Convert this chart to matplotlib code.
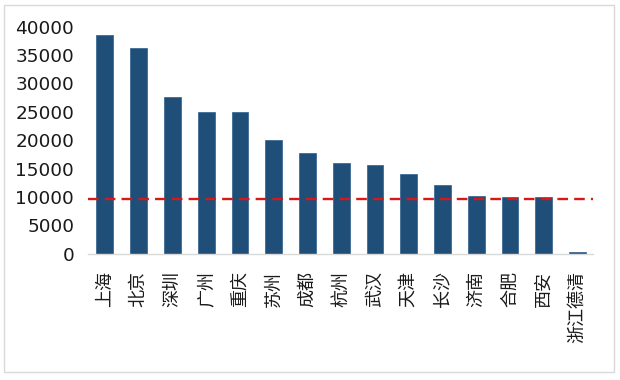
import matplotlib
matplotlib.use("Agg")
import matplotlib.pyplot as plt
from matplotlib.patches import Rectangle

plt.rcParams['font.family'] = ['Noto Sans CJK SC', 'DejaVu Sans']

cities = ["上海", "北京", "深圳", "广州", "重庆", "苏州", "成都", "杭州",
          "武汉", "天津", "长沙", "济南", "合肥", "西安", "浙江德清"]
values = [38600, 36150, 27650, 25000, 25000, 20050, 17750, 15980,
          15620, 14050, 12100, 10150, 9980, 9980, 350]
ref_line = 9700

fig = plt.figure(figsize=(6.2, 3.8), dpi=100)
ax = fig.add_axes([0.142, 0.332, 0.814, 0.598])

x = range(len(cities))
ax.bar(x, values, width=0.5, color="#1F4E79", edgecolor="#2E5F8C", linewidth=0.5, zorder=2)
ax.axhline(ref_line, color="#D81818", linestyle=(0, (4.5, 2.6)), linewidth=1.7, zorder=3)

ax.set_xlim(-0.5, len(cities) - 0.55)
ax.set_ylim(0, 40000)
ax.set_yticks(range(0, 40001, 5000))
ax.set_xticks(list(x))
ax.set_xticklabels(cities, rotation=90, fontsize=13, color="#1a1a1a")
ax.tick_params(axis="y", labelsize=13.3, length=0, pad=10, colors="#1a1a1a")
ax.tick_params(axis="x", length=0, pad=12)
for lab in ax.get_yticklabels():
    lab.set_fontfamily(["DejaVu Sans"])

for s in ["top", "right", "left"]:
    ax.spines[s].set_visible(False)
ax.spines["bottom"].set_color("#D9D9D9")
ax.spines["bottom"].set_linewidth(1)

fig.patches.append(Rectangle((0.006, 0.02), 0.984, 0.966, transform=fig.transFigure,
                             fill=False, edgecolor="#D9D9D9", linewidth=1))

fig.savefig("out.png", dpi=100)
